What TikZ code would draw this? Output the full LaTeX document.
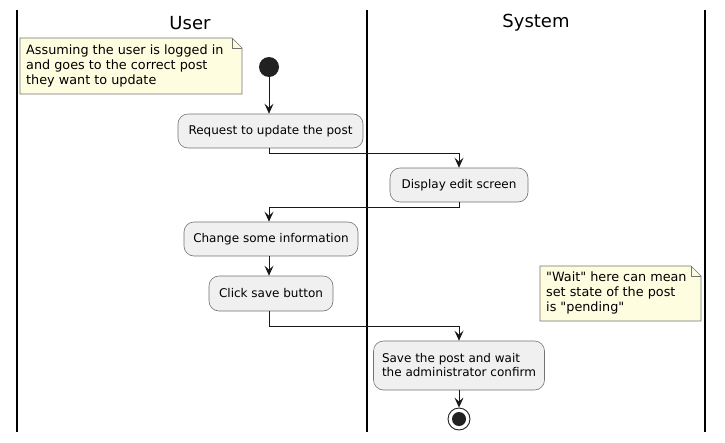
\documentclass[tikz,border=0pt]{standalone}
\usepackage{fontspec}
\setmainfont{DejaVu Sans}
\usetikzlibrary{arrows.meta,shapes.misc}
\tikzset{
  act/.style={draw=black!55, fill=black!6, rounded corners=10pt, line width=0.6pt, font=\fontsize{12}{14}\selectfont, inner sep=0pt, align=left},
  notebox/.style={draw=black!55, fill=yellow!12!white, line width=0.6pt},
  notetext/.style={font=\fontsize{12.8}{15}\selectfont, align=left, anchor=north west, inner sep=0pt},
  lane/.style={line width=1.1pt, black},
  flow/.style={line width=0.9pt, black!90, -{Stealth[length=10pt,width=9pt,inset=4pt]}},
  lanetitle/.style={font=\fontsize{18}{20}\selectfont}
}
\begin{document}
\begin{tikzpicture}[x=1pt,y=-1pt]
\useasboundingbox (0,0) rectangle (725,442);
\fill[white] (0,0) rectangle (725,442);
% lanes
\draw[lane] (17,10) -- (17,432);
\draw[lane] (367,10) -- (367,432);
\draw[lane] (705,10) -- (705,432);
\node[lanetitle] (tu) at (190,23) {User};
\node[lanetitle] (ts) at (536,23) {System};
% note 1
\draw[notebox] (20,38) -- (232,38) -- (242,48) -- (242,94) -- (20,94) -- cycle;
\draw[notebox, fill=none] (232,38) -- (232,48) -- (242,48);
\node[notetext] (n1) at (26,45) {Assuming the user is logged in\\and goes to the correct post\\they want to update};
% note 2
\draw[notebox] (540,266) -- (691,266) -- (701,276) -- (701,321) -- (540,321) -- cycle;
\draw[notebox, fill=none] (691,266) -- (691,276) -- (701,276);
\node[notetext] (n2) at (546,272) {\textquotedbl Wait\textquotedbl{} here can mean\\set state of the post\\is \textquotedbl pending\textquotedbl};
% start
\node[circle, fill=black!87, minimum size=20pt, inner sep=0pt] (start) at (269,67) {};
% activities
\node[act, minimum width=185pt, minimum height=34pt] (req) at (270.5,131) {Request to update the post};
\node[act, minimum width=138pt, minimum height=34pt] (disp) at (459,185) {Display edit screen};
\node[act, minimum width=174pt, minimum height=34pt] (chg) at (271,239) {Change some information};
\node[act, minimum width=124pt, minimum height=35pt] (clk) at (271,293.5) {Click save button};
\node[act, minimum width=171pt, minimum height=49pt] (save) at (459,365.5) {Save the post and wait\\the administrator confirm};
% end
\node[circle, draw=black!87, line width=0.9pt, fill=white, minimum size=22pt, inner sep=0pt] (end) at (459,419) {};
\node[circle, fill=black!87, minimum size=14pt, inner sep=0pt] (endin) at (end) {};
% flows
\draw[flow] (start) -- (req.north -| start);
\draw[flow] (req.south -| start) |- (459,153) -- (disp.north);
\draw[flow] (disp.south) |- (269,207) -- (chg.north -| start);
\draw[flow] (chg.south -| start) -- (clk.north -| start);
\draw[flow] (clk.south -| start) |- (459,326) -- (save.north);
\draw[flow] (save.south) -- (end.north);
\end{tikzpicture}
\end{document}
